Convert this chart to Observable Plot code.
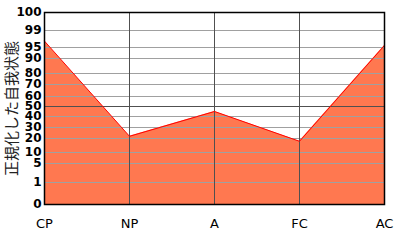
<!DOCTYPE html>
<html><head><meta charset="utf-8">
<script src="https://cdn.jsdelivr.net/npm/d3@7"></script>
<script src="https://cdn.jsdelivr.net/npm/@observablehq/plot@0.6"></script>
<style>html,body{margin:0;padding:0;background:#fff}</style>
</head><body><div id="chart"></div>
<script>
const states = ["CP", "NP", "A", "FC", "AC"];
const scores = [96.5, 22, 45, 18, 95.5];
const yTicks = [0, 1, 5, 10, 20, 30, 40, 50, 60, 70, 80, 90, 95, 99, 100];
const yTitle = "正規化した自我状態";

const data = states.map((s, i) => ({state: s, score: scores[i]}));
const inner = yTicks.filter(t => t > 0 && t < 100);

const chart = Plot.plot({
  width: 400,
  height: 240,
  marginLeft: 44,
  marginRight: 16,
  marginTop: 12,
  marginBottom: 36,
  style: {background: "#fff", fontFamily: "DejaVu Sans"},
  x: {type: "point", domain: states, padding: 0},
  y: {
    type: "linear",
    domain: yTicks,
    range: [204, 182, 163, 152, 138, 127, 116, 106, 96, 84, 73, 58, 47, 30, 12],
    clamp: true
  },
  marks: [
    Plot.areaY(data, {x: "state", y: "score", fill: "#ff7850"}),
    Plot.ruleY(inner.filter(t => t !== 50), {stroke: "#a0a0a0", strokeWidth: 1}),
    Plot.ruleY([50], {stroke: "#505050", strokeWidth: 1}),
    Plot.ruleX(states.slice(1, -1), {stroke: "#505050", strokeWidth: 1}),
    Plot.lineY(data, {x: "state", y: "score", stroke: "#ff0000", strokeWidth: 1}),
    Plot.frame({stroke: "#000", strokeWidth: 1.5}),
    Plot.axisY(yTicks, {tickSize: 0, tickPadding: 3, fontSize: 12, fontWeight: "bold", fill: "#000", label: null}),
    Plot.axisX(states, {tickSize: 0, tickPadding: 14, fontSize: 13, fill: "#000", label: null}),
    Plot.text([yTitle], {frameAnchor: "left", textAnchor: "middle", rotate: -90, dx: -32, fontSize: 15, fill: "#222", fontFamily: "Noto Sans CJK JP"})
  ]
});
document.getElementById("chart").appendChild(chart);
</script>
</body></html>
